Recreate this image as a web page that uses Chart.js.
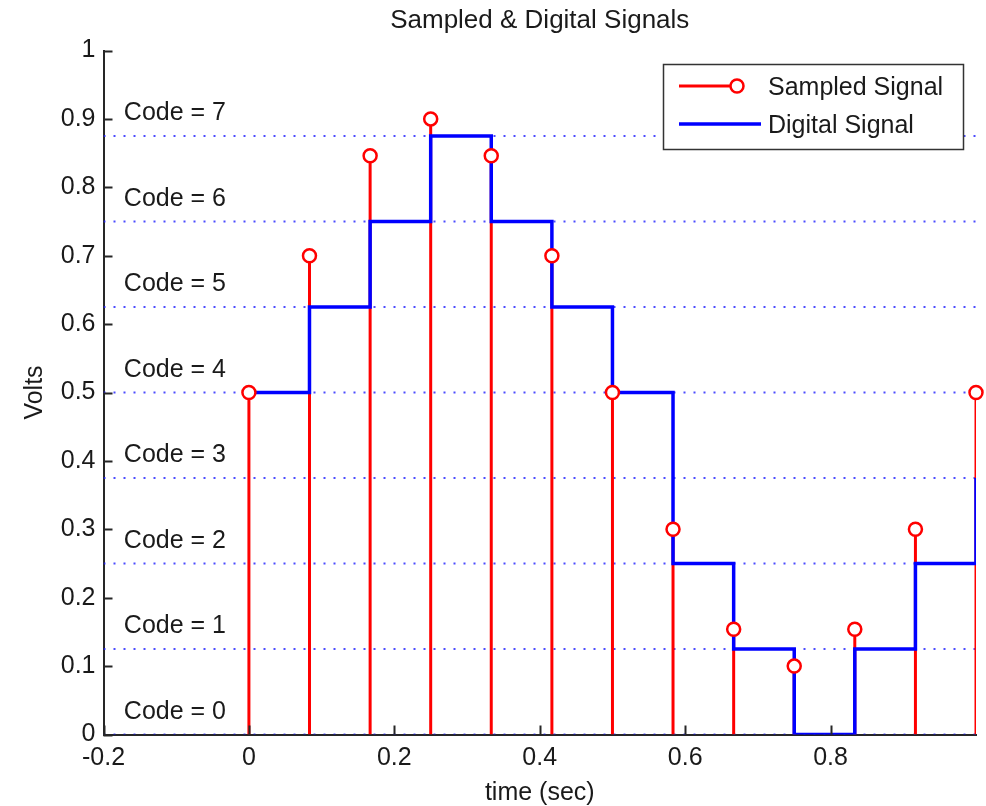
<!DOCTYPE html>
<html>
<head>
<meta charset="utf-8">
<script src="https://cdn.jsdelivr.net/npm/chart.js@4/dist/chart.umd.min.js"></script>
<style>
  html, body { margin: 0; padding: 0; background: #fff; }
  #wrap { width: 986px; height: 806px; position: relative; }
</style>
</head>
<body>
<div id="wrap"><canvas id="chart" width="986" height="806"></canvas></div>
<script>
// sample instants (sec) and the values
const sampleTimes = [0, 0.0833, 0.1667, 0.25, 0.3333, 0.4167, 0.5, 0.5833, 0.6667, 0.75, 0.8333, 0.9167, 1.0];
const sampledVolts = [0.5, 0.7, 0.846, 0.9, 0.846, 0.7, 0.5, 0.3, 0.154, 0.1, 0.154, 0.3, 0.5];
const digitalVolts = [0.5, 0.625, 0.75, 0.875, 0.75, 0.625, 0.5, 0.25, 0.125, 0, 0.125, 0.25, 0.375];

// quantisation levels and their labels
const codeLevels = [0, 0.125, 0.25, 0.375, 0.5, 0.625, 0.75, 0.875];
const codeNames = ['Code = 0', 'Code = 1', 'Code = 2', 'Code = 3', 'Code = 4', 'Code = 5', 'Code = 6', 'Code = 7'];

// axes
const xTicks = [-0.2, 0, 0.2, 0.4, 0.6, 0.8];
const yTicks = [0, 0.1, 0.2, 0.3, 0.4, 0.5, 0.6, 0.7, 0.8, 0.9, 1];
const xRange = [-0.2, 1];
const yRange = [0, 1];

const FONT = "'Liberation Sans', Arial, Helvetica, sans-serif";
const INK = '#1a1a1a';
const RED = '#ff0000';
const BLUE = '#0000ff';

// stems: vertical segments split by gaps
const stemPoints = [];
sampleTimes.forEach((t, i) => {
    stemPoints.push({ x: t, y: 0 }, { x: t, y: sampledVolts[i] }, { x: t, y: null });
});

// dotted level lines across the whole axis
const levelPoints = [];
codeLevels.forEach(l => {
    levelPoints.push({ x: xRange[0], y: l }, { x: xRange[1], y: l }, { x: xRange[1], y: null });
});

const fmt = v => String(Math.round(v * 10) / 10);

// titles, code labels, inward ticks and legend
const decorations = {
    id: 'decorations',
    afterDatasetsDraw(chart) {
        const { ctx, chartArea: a, scales: { x, y } } = chart;
        ctx.save();

        // inward tick marks
        ctx.strokeStyle = '#262626';
        ctx.lineWidth = 2;
        ctx.beginPath();
        yTicks.forEach(v => {
            const py = Math.round(y.getPixelForValue(v)) + 0.5;
            ctx.moveTo(a.left, py);
            ctx.lineTo(a.left + 9, py);
        });
        xTicks.forEach(v => {
            const px = Math.round(x.getPixelForValue(v)) + 0.5;
            ctx.moveTo(px, a.bottom);
            ctx.lineTo(px, a.bottom - 9);
        });
        ctx.stroke();

        ctx.fillStyle = INK;
        ctx.font = '25px ' + FONT;

        // code labels
        ctx.textAlign = 'left';
        ctx.textBaseline = 'middle';
        codeLevels.forEach((l, i) => {
            ctx.fillText(codeNames[i], x.getPixelForValue(-0.172), y.getPixelForValue(l + 0.033));
        });

        // title and axis titles
        ctx.textAlign = 'center';
        ctx.textBaseline = 'alphabetic';
        ctx.font = '26px ' + FONT;
        ctx.fillText('Sampled & Digital Signals', (a.left + a.right) / 2, 28);
        ctx.font = '25px ' + FONT;
        ctx.fillText('time (sec)', (a.left + a.right) / 2, 800);
        ctx.save();
        ctx.translate(42, (a.top + a.bottom) / 2);
        ctx.rotate(-Math.PI / 2);
        ctx.fillText('Volts', 0, 0);
        ctx.restore();

        // legend
        const lx = 663.5, ly = 64.5, lw = 300, lh = 85;
        ctx.fillStyle = '#fff';
        ctx.fillRect(lx, ly, lw, lh);
        ctx.strokeStyle = '#333';
        ctx.lineWidth = 1.5;
        ctx.strokeRect(lx, ly, lw, lh);

        ctx.lineWidth = 3;
        ctx.strokeStyle = RED;
        ctx.beginPath();
        ctx.moveTo(679, 86);
        ctx.lineTo(737, 86);
        ctx.stroke();
        ctx.beginPath();
        ctx.arc(737, 86, 6.5, 0, Math.PI * 2);
        ctx.fillStyle = '#fff';
        ctx.fill();
        ctx.lineWidth = 2.5;
        ctx.stroke();

        ctx.lineWidth = 3.5;
        ctx.strokeStyle = BLUE;
        ctx.beginPath();
        ctx.moveTo(679, 124);
        ctx.lineTo(761, 124);
        ctx.stroke();

        ctx.fillStyle = INK;
        ctx.textAlign = 'left';
        ctx.textBaseline = 'middle';
        ctx.fillText('Sampled Signal', 768, 88);
        ctx.fillText('Digital Signal', 768, 126);

        ctx.restore();
    }
};

new Chart(document.getElementById('chart'), {
    type: 'scatter',
    data: {
        datasets: [
            {
                label: 'Sampled Signal markers',
                data: sampleTimes.map((t, i) => ({ x: t, y: sampledVolts[i] })),
                showLine: false,
                pointRadius: 6.5,
                pointBorderWidth: 2.5,
                pointBorderColor: RED,
                pointBackgroundColor: '#fff',
                clip: false
            },
            {
                label: 'Digital Signal',
                data: sampleTimes.map((t, i) => ({ x: t, y: digitalVolts[i] })),
                showLine: true,
                stepped: true,
                borderColor: BLUE,
                borderWidth: 3.5,
                pointRadius: 0,
                clip: 0
            },
            {
                label: 'Sampled Signal',
                data: stemPoints,
                showLine: true,
                spanGaps: false,
                borderColor: RED,
                borderWidth: 3,
                borderCapStyle: 'butt',
                pointRadius: 0,
                clip: 0
            },
            {
                label: 'levels',
                data: levelPoints,
                showLine: true,
                spanGaps: false,
                borderColor: 'rgba(30,30,255,0.8)',
                borderWidth: 2,
                borderDash: [2, 8],
                borderCapStyle: 'butt',
                pointRadius: 0,
                clip: 0
            }
        ]
    },
    options: {
        responsive: false,
        animation: false,
        events: [],
        layout: { padding: { top: 50.5, right: 10, left: 0, bottom: 0 } },
        plugins: {
            legend: { display: false },
            tooltip: { enabled: false },
            title: { display: false }
        },
        scales: {
            x: {
                type: 'linear',
                min: xRange[0],
                max: xRange[1],
                afterFit: s => { s.height = 71.5; },
                afterBuildTicks: s => { s.ticks = xTicks.map(v => ({ value: v })); },
                grid: { display: true, drawOnChartArea: false, drawTicks: false },
                border: { display: true, color: '#262626', width: 2 },
                ticks: {
                    padding: 9,
                    color: INK,
                    font: { family: FONT, size: 25 },
                    maxRotation: 0,
                    autoSkip: false,
                    callback: v => fmt(v)
                }
            },
            y: {
                type: 'linear',
                min: yRange[0],
                max: yRange[1],
                afterFit: s => { s.width = 103.5; },
                afterBuildTicks: s => { s.ticks = yTicks.map(v => ({ value: v })); },
                grid: { display: true, drawOnChartArea: false, drawTicks: false },
                border: { display: true, color: '#262626', width: 2 },
                ticks: {
                    padding: 8,
                    color: INK,
                    font: { family: FONT, size: 25 },
                    autoSkip: false,
                    callback: v => fmt(v)
                }
            }
        }
    },
    plugins: [decorations]
});
</script>
</body>
</html>
